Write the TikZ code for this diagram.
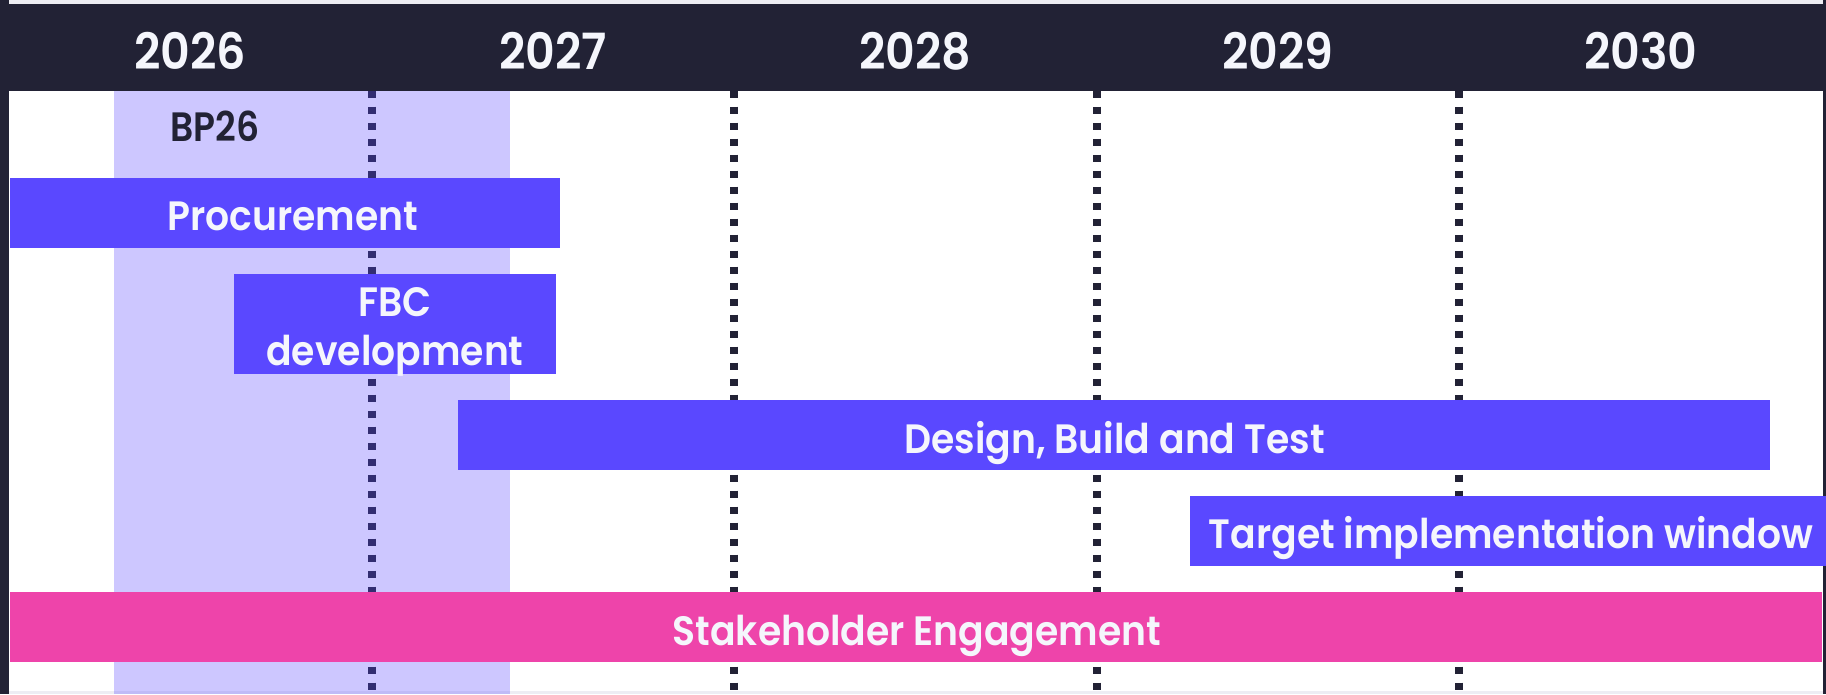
\documentclass[tikz,border=0pt]{standalone}
\usepackage{fontspec}
\setmainfont{Poppins}
\newfontfamily\popsemi{Poppins SemiBold}
\definecolor{hdr}{HTML}{222235}
\definecolor{barc}{HTML}{5A48FF}
\definecolor{pinkc}{HTML}{EE44AA}
\definecolor{txtc}{HTML}{F5F6FC}
\definecolor{edgec}{HTML}{EDEDF3}
\newcommand{\nx}[1]{\scalebox{0.92}[1]{#1}}
\tikzset{
  barbox/.style={fill=barc, draw=none, inner sep=0pt, outer sep=0pt, anchor=north west},
  pinkbox/.style={barbox, fill=pinkc},
  bartext/.style={text=txtc, inner sep=0pt, anchor=base, font=\fontsize{41}{48}\selectfont\popsemi},
  yeartext/.style={text=txtc, inner sep=0pt, anchor=base, font=\fontsize{50}{56}\selectfont\popsemi},
  vline/.style={draw=hdr, line width=8pt, dash pattern=on 7pt off 9pt},
}
\begin{document}
\begin{tikzpicture}[x=1pt,y=-1pt]
\useasboundingbox (0,0) rectangle (1826,694);
\fill[white] (0,0) rectangle (1826,694);
\fill[edgec] (0,0) rectangle (1826,4);
\fill[edgec] (0,691) rectangle (1826,694);
\fill[hdr] (0,0) rectangle (8.5,694);
\fill[hdr] (1822.5,0) rectangle (1826,694);
% year divider lines
\foreach \i/\x in {1/371.6,2/734.2,3/1096.8,4/1459.4}{
  \coordinate (t\i) at (\x,90.7);
  \coordinate (b\i) at (\x,694);
  \draw[vline] (t\i) -- (b\i);
}
% BP26 shading
\fill[barc, opacity=0.3] (114,91) rectangle (510,694);
% header
\fill[hdr] (8.5,4) rectangle (1822.5,91);
\node[yeartext] (y26) at (190,69.3) {\nx{2026}};
\node[yeartext] (y27) at (552.9,69.3) {\nx{2027}};
\node[yeartext] (y28) at (915.5,69.3) {\nx{2028}};
\node[yeartext] (y29) at (1278.1,69.3) {\nx{2029}};
\node[yeartext] (y30) at (1640.7,69.3) {\nx{2030}};
% BP26 label
\node[text=hdr, inner sep=0pt, anchor=base west, font=\fontsize{41}{48}\selectfont\popsemi] (bp) at (170,141.7) {\scalebox{0.88}[1]{BP26}};
% bars
\node[barbox, minimum width=550pt, minimum height=70pt] (proc) at (9.6,178) {};
\node[bartext] (proct) at (292.8,230) {\nx{Procurement}};
\node[barbox, minimum width=322pt, minimum height=100pt] (fbc) at (234,274) {};
\node[bartext] (fbct1) at (395,316.7) {\nx{FBC}};
\node[bartext] (fbct2) at (395,365) {\nx{development}};
\node[barbox, minimum width=1312pt, minimum height=70pt] (dbt) at (458,400) {};
\node[bartext] (dbtt) at (1114.5,453) {\nx{Design, Build and Test}};
\node[barbox, minimum width=636pt, minimum height=70pt] (tiw) at (1190,496) {};
\node[bartext] (tiwt) at (1511,548.3) {\nx{Target implementation window}};
\node[pinkbox, minimum width=1811.6pt, minimum height=70pt] (se) at (10,592) {};
\node[bartext] (set) at (917,645) {\nx{Stakeholder Engagement}};
\end{tikzpicture}
\end{document}
